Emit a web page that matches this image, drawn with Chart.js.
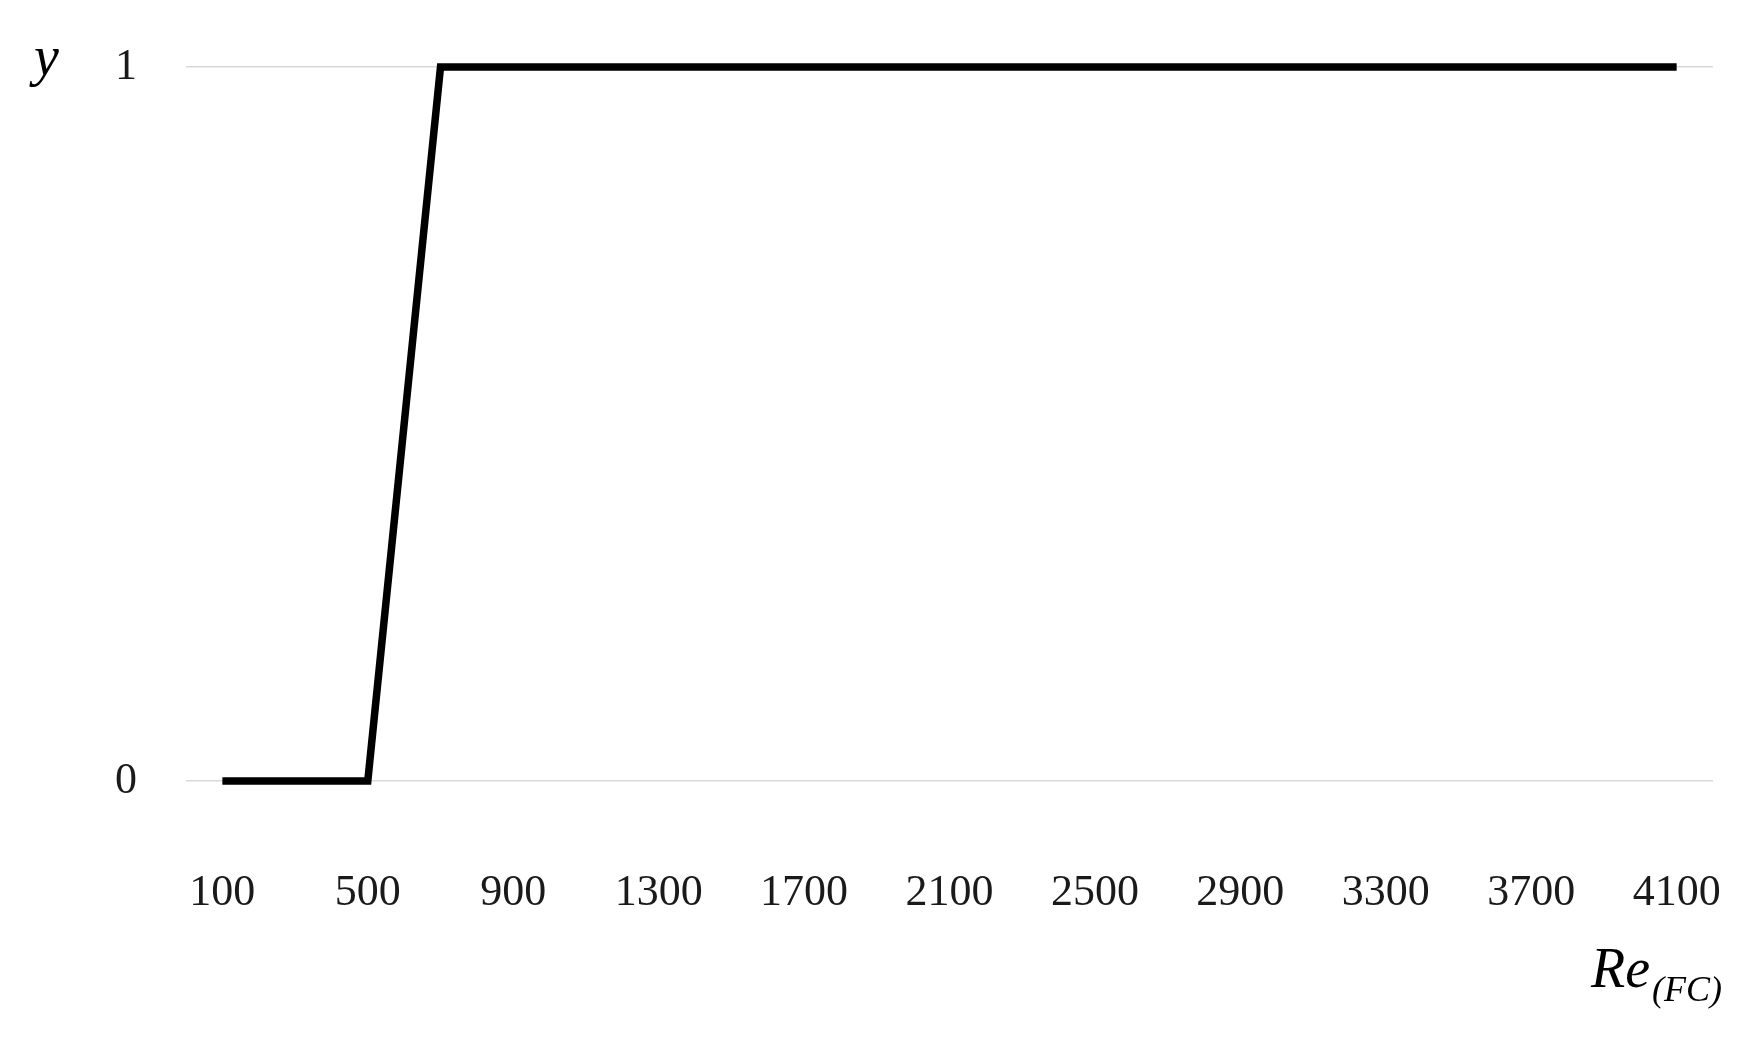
<!DOCTYPE html>
<html>
<head>
<meta charset="utf-8">
<title>y vs Re(FC)</title>
<script src="https://cdn.jsdelivr.net/npm/chart.js@4.4.1/dist/chart.umd.min.js"></script>
<style>
  html, body { margin: 0; padding: 0; background: #ffffff; }
  #wrap { width: 1761px; height: 1045px; position: relative; }
</style>
</head>
<body>
<div id="wrap"><canvas id="chart" width="1761" height="1045"></canvas></div>
<script>
// Datos
const reValues = [100, 300, 500, 700, 900, 1100, 1300, 1500, 1700, 1900, 2100,
                  2300, 2500, 2700, 2900, 3100, 3300, 3500, 3700, 3900, 4100];
const yValues  = [0, 0, 0, 1, 1, 1, 1, 1, 1, 1, 1,
                  1, 1, 1, 1, 1, 1, 1, 1, 1, 1];
const xTickLabels = [100, 500, 900, 1300, 1700, 2100, 2500, 2900, 3300, 3700, 4100];
const yTickLabels = [0, 1];

const serif = "'Liberation Serif', 'DejaVu Serif', serif";

// Títulos de ejes: "y" arriba a la izquierda y "Re(FC)" con subíndice abajo a la derecha
const axisTitles = {
    id: 'axisTitles',
    afterDraw(chart) {
        const c = chart.ctx;
        const area = chart.chartArea;
        c.save();
        c.fillStyle = '#000000';
        c.textBaseline = 'alphabetic';
        c.textAlign = 'left';

        c.font = 'italic 56px ' + serif;
        c.fillText('y', 34, area.top + 8);

        c.font = 'italic 56px ' + serif;
        const wMain = c.measureText('Re').width;
        c.font = 'italic 36px ' + serif;
        const wSub = c.measureText('(FC)').width;
        const right = area.right + 7;
        const startX = right - wMain - wSub;
        c.font = 'italic 56px ' + serif;
        c.fillText('Re', startX, 987);
        c.font = 'italic 36px ' + serif;
        c.fillText('(FC)', startX + wMain + 2, 1001);
        c.restore();
    }
};

const ctx = document.getElementById('chart').getContext('2d');
const chart = new Chart(ctx, {
    type: 'line',
    data: {
        datasets: [{
            data: reValues.map((x, i) => ({ x: x, y: yValues[i] })),
            borderColor: '#000000',
            borderWidth: 7.5,
            borderJoinStyle: 'miter',
            borderCapStyle: 'butt',
            pointRadius: 0,
            tension: 0,
            fill: false,
            clip: false
        }]
    },
    options: {
        responsive: false,
        animation: false,
        layout: {
            padding: { top: 67, right: 48, left: 0, bottom: 0 }
        },
        plugins: {
            legend: { display: false },
            tooltip: { enabled: false }
        },
        scales: {
            x: {
                type: 'linear',
                min: 0,
                max: 4200,
                afterBuildTicks(scale) {
                    scale.ticks = xTickLabels.map(v => ({ value: v }));
                },
                afterFit(scale) {
                    scale.height = 1045 - 781;
                    scale.paddingLeft = 0;
                    scale.paddingRight = 0;
                },
                grid: { display: false, drawTicks: false },
                border: { display: false },
                ticks: {
                    autoSkip: false,
                    maxRotation: 0,
                    padding: 86,
                    color: '#1a1a1a',
                    font: { family: serif, size: 44 },
                    callback: v => String(v)
                }
            },
            y: {
                type: 'linear',
                min: 0,
                max: 1,
                afterBuildTicks(scale) {
                    scale.ticks = yTickLabels.map(v => ({ value: v }));
                },
                afterFit(scale) {
                    scale.width = 186;
                    scale.paddingTop = 0;
                    scale.paddingBottom = 0;
                },
                grid: {
                    color: '#d9d9d9',
                    lineWidth: 1.5,
                    drawTicks: false
                },
                border: { display: false },
                ticks: {
                    padding: 49,
                    color: '#1a1a1a',
                    font: { family: serif, size: 44 },
                    callback: v => String(v)
                }
            }
        }
    },
    plugins: [axisTitles]
});
</script>
</body>
</html>
